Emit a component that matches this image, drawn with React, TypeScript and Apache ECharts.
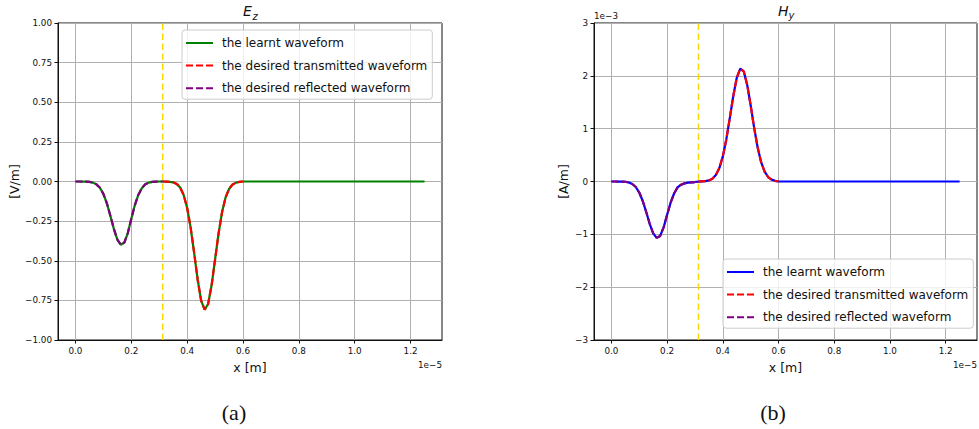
import { useEffect, useRef } from 'react';
import * as echarts from 'echarts';

// Series names shown in both legends
const LEARNT = 'the learnt waveform';
const TRANSMITTED = 'the desired transmitted waveform';
const REFLECTED = 'the desired reflected waveform';

// Sample positions along x, in units of 1e-5 m
const xReflected = [
  0, 0.0125, 0.025, 0.0375, 0.05, 0.0625, 0.075, 0.0875, 0.1, 0.1125, 0.125, 0.1375, 0.15,
  0.1625, 0.175, 0.1875, 0.2, 0.2125, 0.225, 0.2375, 0.25, 0.2625, 0.275, 0.2875, 0.3, 0.3125,
];
const xTransmitted = [
  0.3125, 0.325, 0.3375, 0.35, 0.3625, 0.375, 0.3875, 0.4, 0.4125, 0.425, 0.4375, 0.45,
  0.4625, 0.475, 0.4875, 0.5, 0.5125, 0.525, 0.5375, 0.55, 0.5625, 0.575, 0.5875, 0.6,
];
const xDomainEnd = 1.25;
const interfaceX = 0.3125;

// E_z in V/m
const ezReflected = [
  0, 0, -0.0002, -0.001, -0.002, -0.007, -0.018, -0.039, -0.078, -0.138, -0.216, -0.299, -0.367,
  -0.399, -0.385, -0.325, -0.235, -0.15, -0.085, -0.042, -0.018, -0.007, -0.002, -0.001, 0, 0,
];
const ezTransmitted = [
  0, -0.0005, -0.002, -0.005, -0.015, -0.038, -0.085, -0.167, -0.291, -0.45, -0.618, -0.751,
  -0.809, -0.773, -0.655, -0.491, -0.327, -0.193, -0.101, -0.047, -0.019, -0.007, -0.002, 0,
];

// H_y in units of 1e-3 A/m
const hyReflected = [
  0, 0, -0.001, -0.003, -0.005, -0.019, -0.048, -0.104, -0.209, -0.369, -0.578, -0.8, -0.982,
  -1.067, -1.03, -0.869, -0.629, -0.401, -0.227, -0.112, -0.06, -0.035, -0.022, -0.015, -0.01, -0.004,
];
const hyTransmitted = [
  -0.004, 0.002, 0.007, 0.02, 0.053, 0.122, 0.254, 0.475, 0.796, 1.199, 1.619, 1.963,
  2.136, 2.086, 1.828, 1.438, 1.015, 0.643, 0.366, 0.186, 0.085, 0.035, 0.013, 0.004,
];

const xTicks = [0, 0.2, 0.4, 0.6, 0.8, 1.0, 1.2];
const xMin = -0.0625;
const xMax = 1.3125;

const FONT = 'DejaVu Sans';
const MINUS = '\u2212';
const INK = '#111';

const zip = (xs: number[], ys: number[]) => xs.map((x, i) => [x, ys[i]]);

function buildPanel(
  idx: number,
  reflected: number[],
  transmitted: number[],
  learntColor: string,
  yRange: [number, number],
) {
  const refl = zip(xReflected, reflected);
  const trans = zip(xTransmitted, transmitted);
  const learnt = [...refl.slice(0, -1), ...trans, [xDomainEnd, 0]];
  const common = {
    type: 'line',
    xAxisIndex: idx,
    yAxisIndex: idx,
    symbol: 'none',
    silent: true,
  };
  return [
    {
      ...common,
      name: 'interface',
      data: [
        [interfaceX, yRange[0]],
        [interfaceX, yRange[1]],
      ],
      lineStyle: { color: '#ffd700', width: 1.5, type: [6.5, 3.5] },
      z: 1,
    },
    {
      ...common,
      name: LEARNT,
      data: learnt,
      lineStyle: { color: learntColor, width: 2.2 },
      itemStyle: { color: learntColor },
      z: 2,
    },
    {
      ...common,
      name: TRANSMITTED,
      data: trans,
      lineStyle: { color: '#ff0000', width: 2.2, type: [7, 3] },
      itemStyle: { color: '#ff0000' },
      z: 3,
    },
    {
      ...common,
      name: REFLECTED,
      data: refl,
      lineStyle: { color: '#800080', width: 2.2, type: [7, 3] },
      itemStyle: { color: '#800080' },
      z: 4,
    },
  ];
}

function xAxis(gridIndex: number) {
  return {
    type: 'value',
    gridIndex,
    min: xMin,
    max: xMax,
    name: 'x [m]',
    nameLocation: 'middle',
    nameGap: 21,
    nameTextStyle: { fontSize: 12.5, color: INK, fontFamily: FONT },
    axisLine: { show: true, onZero: false, lineStyle: { color: INK, width: 1 } },
    axisTick: { show: true, length: 3.5, customValues: xTicks, lineStyle: { color: INK } },
    axisLabel: {
      customValues: xTicks,
      formatter: (v: number) => v.toFixed(1),
      fontSize: 8.8,
      margin: 6,
      color: INK,
      fontFamily: FONT,
    },
    splitLine: { show: true, lineStyle: { color: '#b0b0b0', width: 1 } },
  };
}

function yAxis(gridIndex: number, min: number, max: number, interval: number, digits: number, name: string, gap: number) {
  return {
    type: 'value',
    gridIndex,
    min,
    max,
    interval,
    name,
    nameLocation: 'middle',
    nameGap: gap,
    nameTextStyle: { fontSize: 12.5, color: INK, fontFamily: FONT },
    axisLine: { show: true, onZero: false, lineStyle: { color: INK, width: 1 } },
    axisTick: { show: true, length: 3.5, lineStyle: { color: INK } },
    axisLabel: {
      formatter: (v: number) => v.toFixed(digits).replace('-', MINUS),
      fontSize: 8.8,
      margin: 6,
      color: INK,
      fontFamily: FONT,
    },
    splitLine: { show: true, lineStyle: { color: '#b0b0b0', width: 1 } },
  };
}

function legend(left: number, top: number, learntColor: string) {
  return {
    orient: 'vertical',
    left,
    top,
    selectedMode: false,
    itemWidth: 27,
    itemHeight: 14,
    itemGap: 10.6,
    padding: [7, 5, 5, 3],
    backgroundColor: 'rgba(255,255,255,0.8)',
    borderColor: '#cccccc',
    borderWidth: 1,
    borderRadius: 3,
    itemStyle: { opacity: 0 },
    textStyle: { fontSize: 12, color: INK, fontFamily: FONT, padding: [0, 0, 0, 4] },
    data: [
      { name: LEARNT, lineStyle: { color: learntColor } },
      { name: TRANSMITTED, lineStyle: { color: '#ff0000' } },
      { name: REFLECTED, lineStyle: { color: '#800080' } },
    ],
  };
}

const smallText = (x: number, y: number, text: string, align: string) => ({
  type: 'text',
  x,
  y,
  silent: true,
  style: { text, fontSize: 8.8, fontFamily: FONT, fill: INK, align, verticalAlign: 'middle' },
});

const italic = (x: number, y: number, text: string, size: number) => ({
  type: 'text',
  x,
  y,
  silent: true,
  style: { text, fontSize: size, fontStyle: 'italic', fontFamily: FONT, fill: INK, align: 'left', verticalAlign: 'middle' },
});

const caption = (x: number, text: string) => ({
  type: 'text',
  x,
  y: 412,
  silent: true,
  style: { text, fontSize: 22, fontFamily: 'Liberation Serif', fill: INK, align: 'center', verticalAlign: 'middle' },
});

export default function App() {
  const ref = useRef<HTMLDivElement>(null);

  useEffect(() => {
    if (!ref.current) return;
    const chart = echarts.init(ref.current, undefined, { renderer: 'svg' });
    chart.setOption({
      animation: false,
      backgroundColor: '#ffffff',
      grid: [
        { left: 58, top: 23, width: 384, height: 317, show: true, borderColor: INK, borderWidth: 1, backgroundColor: 'transparent' },
        { left: 594, top: 23, width: 383, height: 317, show: true, borderColor: INK, borderWidth: 1, backgroundColor: 'transparent' },
      ],
      xAxis: [xAxis(0), xAxis(1)],
      yAxis: [
        yAxis(0, -1, 1, 0.25, 2, '[V/m]', 34),
        yAxis(1, -3, 3, 1, 0, '[A/m]', 24),
      ],
      legend: [legend(182, 30, '#008000'), legend(723, 259, '#0000ff')],
      series: [
        ...buildPanel(0, ezReflected, ezTransmitted, '#008000', [-1, 1]),
        ...buildPanel(1, hyReflected, hyTransmitted, '#0000ff', [-3, 3]),
      ],
      graphic: [
        italic(243, 11, 'E', 14),
        italic(252.5, 16, 'z', 10),
        italic(778, 11, 'H', 14),
        italic(788.5, 15, 'y', 10),
        smallText(442, 365, '1e\u22125', 'right'),
        smallText(977, 365, '1e\u22125', 'right'),
        smallText(594, 16, '1e\u22123', 'left'),
        caption(234, '(a)'),
        caption(773, '(b)'),
      ],
    });
    return () => chart.dispose();
  }, []);

  return (
    <div
      ref={ref}
      style={{ position: 'absolute', left: 0, top: 0, width: 979, height: 429 }}
    />
  );
}
